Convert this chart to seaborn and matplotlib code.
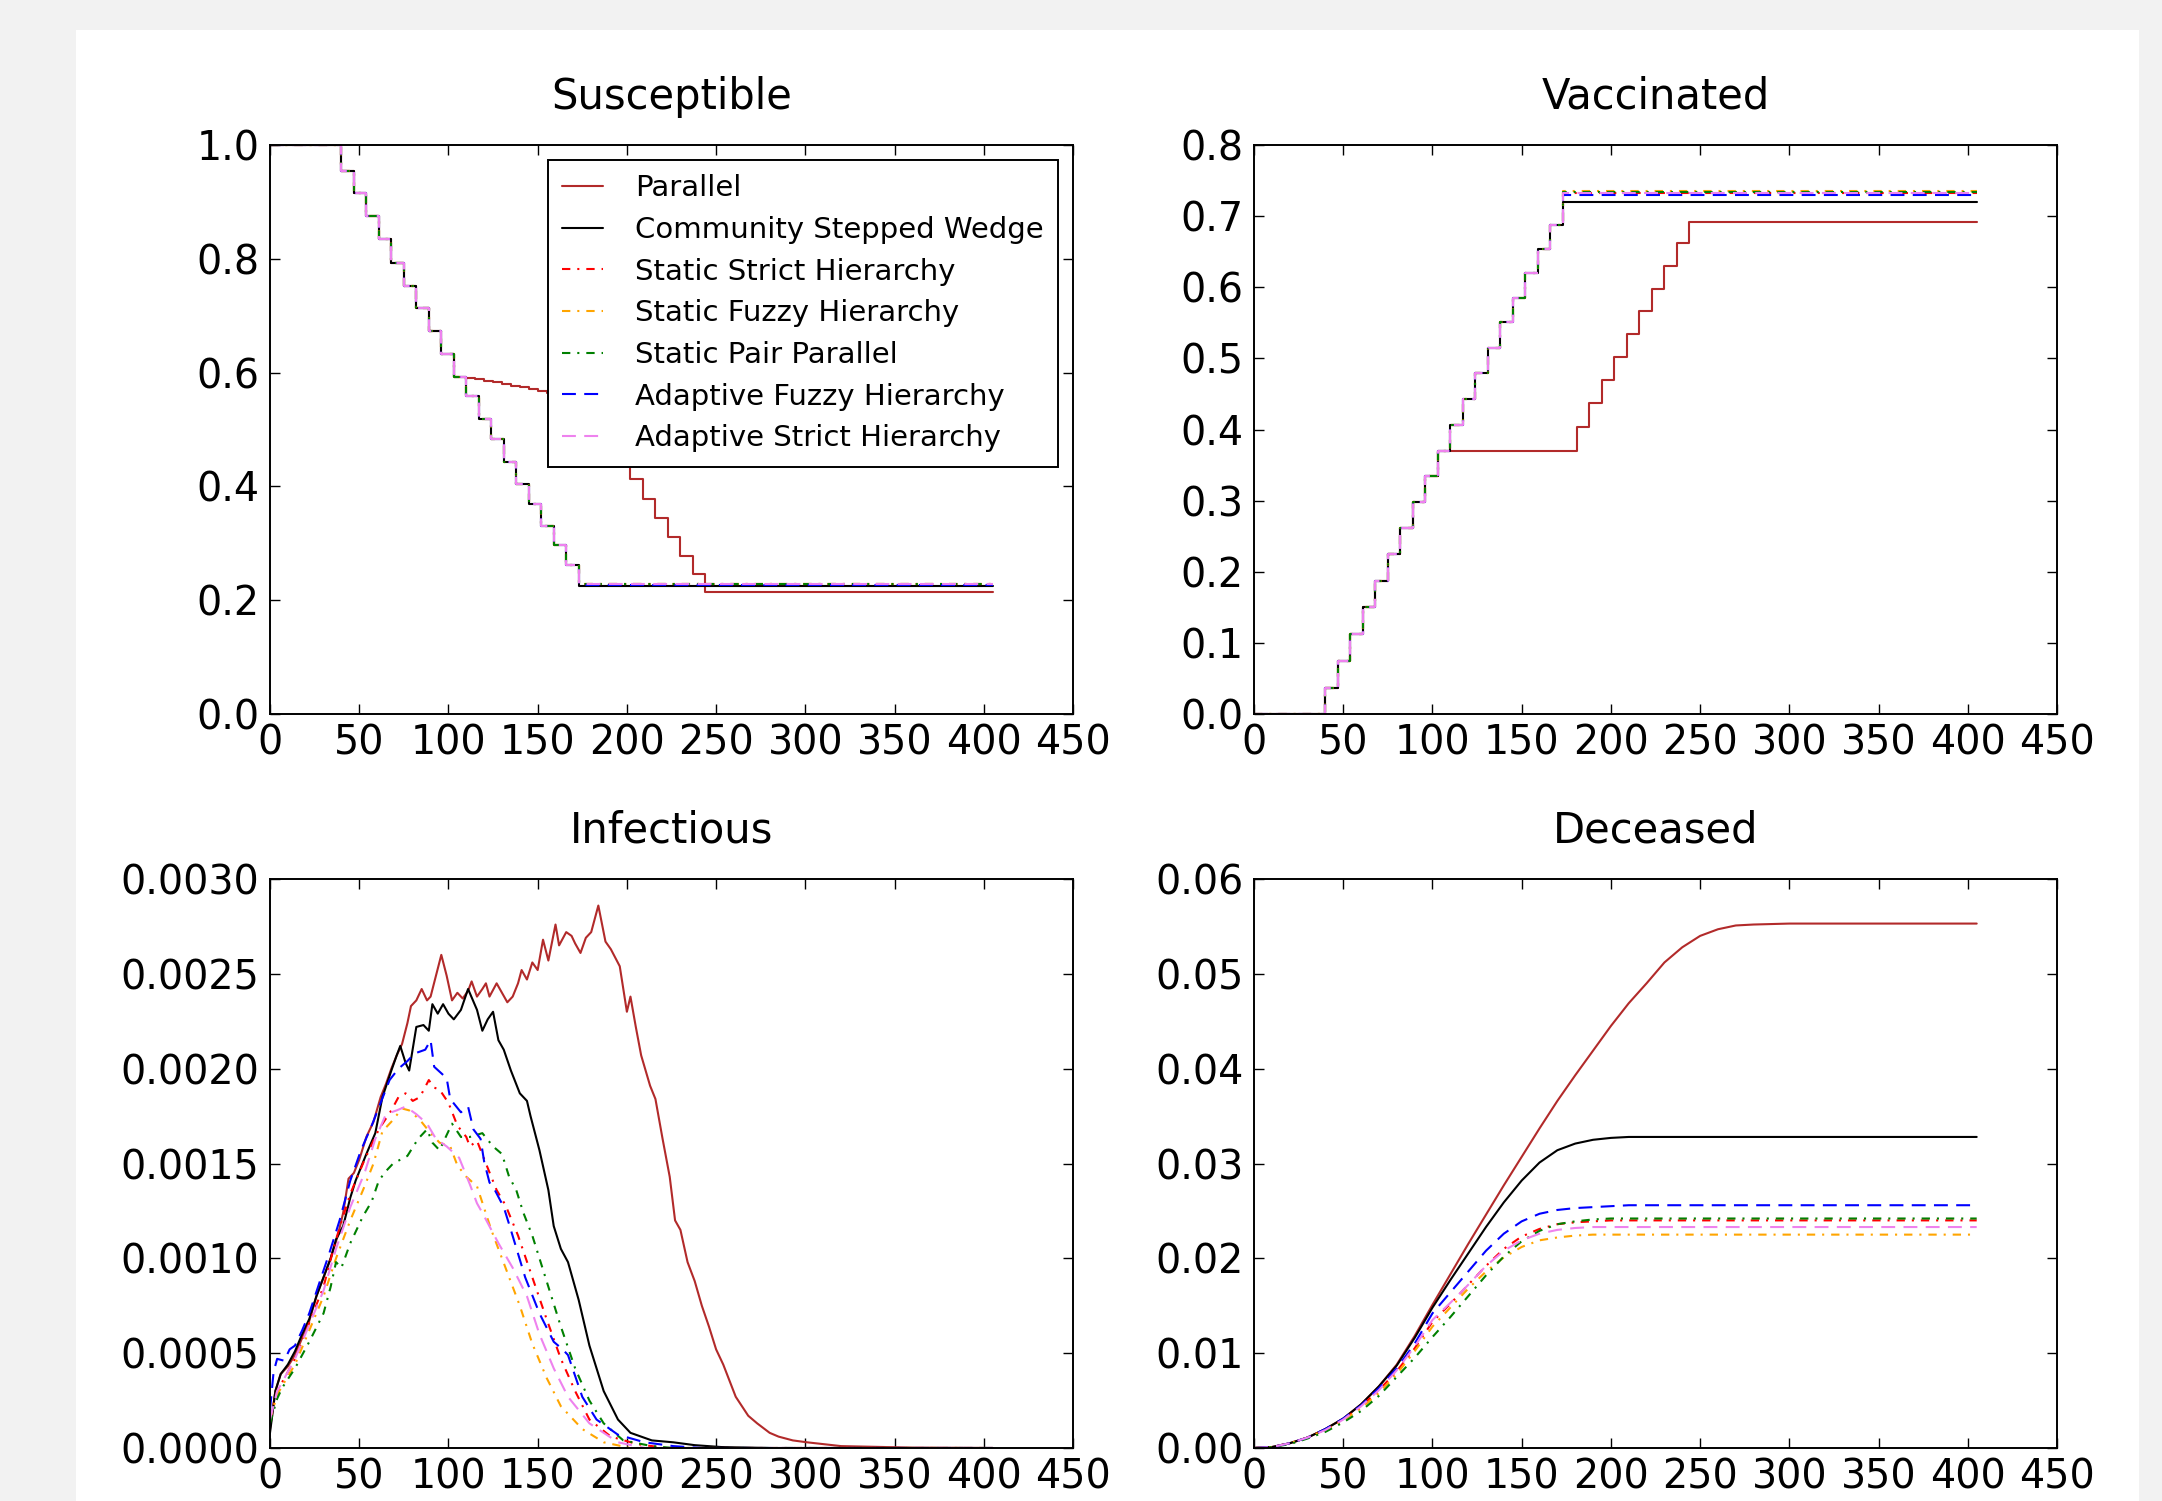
import matplotlib
matplotlib.use('Agg')
import matplotlib.pyplot as plt
from matplotlib.patches import Rectangle
from matplotlib.ticker import FormatStrFormatter
import pandas as pd
import seaborn as sns

# scenarios, in legend order
scenarios = ['Parallel', 'Community Stepped Wedge', 'Static Strict Hierarchy',
             'Static Fuzzy Hierarchy', 'Static Pair Parallel',
             'Adaptive Fuzzy Hierarchy', 'Adaptive Strict Hierarchy']

'''1. Susceptible / Vaccinated (step curves)'''
step_days = [0, 40, 47, 54, 61, 68, 75, 82, 89, 96, 103, 110, 117, 124, 131, 138, 145, 152, 159, 166, 173, 405]
sus_ramp = [1.0, 0.954, 0.916, 0.875, 0.834, 0.793, 0.752, 0.714, 0.673, 0.632, 0.593,
            0.559, 0.518, 0.483, 0.443, 0.404, 0.369, 0.331, 0.297, 0.262]
sus_plateau = [None, 0.225, 0.228, 0.229, 0.228, 0.227, 0.228]
vac_ramp = [0.0, 0.037, 0.075, 0.112, 0.150, 0.187, 0.225, 0.262, 0.298, 0.334, 0.370,
            0.406, 0.443, 0.479, 0.515, 0.551, 0.585, 0.620, 0.654, 0.688]
vac_plateau = [None, 0.720, 0.733, 0.735, 0.734, 0.730, 0.732]

# Parallel keeps going after the first 10 rounds with a pause
par_sus_late_days = [110, 115, 120, 125, 130, 135, 140, 145, 150, 155, 160, 165, 170, 175,
                     181, 188, 195, 202, 209, 216, 223, 230, 237, 244, 405]
par_sus_late = [0.590, 0.588, 0.585, 0.583, 0.580, 0.577, 0.574, 0.571, 0.568, 0.565, 0.562, 0.559, 0.556, 0.553,
                0.512, 0.477, 0.442, 0.413, 0.378, 0.344, 0.311, 0.278, 0.246, 0.214, 0.214]
par_vac_late_days = [181, 188, 195, 202, 209, 216, 223, 230, 237, 244, 405]
par_vac_late = [0.404, 0.437, 0.470, 0.502, 0.534, 0.566, 0.598, 0.630, 0.662, 0.692, 0.692]

'''2. Infectious'''
inf_parallel = [(0, 0.00010), (3, 0.00030), (6, 0.00039), (10, 0.00043), (14, 0.00049), (18, 0.00058),
                (22, 0.00067), (26, 0.00080), (30, 0.00090), (34, 0.00100), (38, 0.00112), (41, 0.00124),
                (44, 0.00142), (47, 0.00145), (50, 0.00152), (54, 0.00164), (58, 0.00172), (62, 0.00185),
                (65, 0.00192), (68, 0.00200), (71, 0.00207), (74, 0.00213), (77, 0.00224), (79, 0.00233),
                (82, 0.00236), (85, 0.00242), (88, 0.00236), (90, 0.00238), (93, 0.00249), (96, 0.00260),
                (99, 0.00249), (102, 0.00236), (105, 0.00240), (108, 0.00237), (111, 0.00241), (113, 0.00246),
                (116, 0.00238), (119, 0.00242), (121, 0.00245), (123, 0.00238), (127, 0.00245), (130, 0.00240),
                (133, 0.00235), (136, 0.00238), (139, 0.00245), (141, 0.00252), (144, 0.00247), (147, 0.00256),
                (150, 0.00252), (153, 0.00268), (156, 0.00257), (160, 0.00276), (162, 0.00265), (166, 0.00272),
                (169, 0.00270), (171, 0.00266), (174, 0.00261), (177, 0.00269), (180, 0.00272), (184, 0.00286),
                (188, 0.00267), (191, 0.00263), (196, 0.00254), (200, 0.00230), (202, 0.00238), (205, 0.00222),
                (208, 0.00207), (213, 0.00191), (216, 0.00184), (220, 0.00163), (224, 0.00143), (227, 0.00120),
                (230, 0.00115), (234, 0.00098), (238, 0.00088), (242, 0.00075), (246, 0.00064), (250, 0.00052),
                (254, 0.00044), (261, 0.00027), (268, 0.00017), (273, 0.00013), (280, 0.00008), (285, 0.00006),
                (293, 0.00004), (301, 0.00003), (320, 0.00001), (360, 0.000002), (405, 0.0)]
inf_community = [(0, 0.00008), (3, 0.00030), (6, 0.00039), (10, 0.00044), (14, 0.00051), (18, 0.00060),
                 (22, 0.00068), (26, 0.00080), (30, 0.00090), (34, 0.00100), (37, 0.00110), (41, 0.00117),
                 (45, 0.00132), (48, 0.00141), (54, 0.00155), (59, 0.00166), (63, 0.00185), (68, 0.00199),
                 (71, 0.00207), (73, 0.00212), (76, 0.00203), (78, 0.00199), (82, 0.00222), (86, 0.00223),
                 (89, 0.00220), (91, 0.00234), (94, 0.00229), (97, 0.00234), (100, 0.00229), (103, 0.00226),
                 (107, 0.00231), (111, 0.00242), (116, 0.00231), (119, 0.00220), (122, 0.00226), (125, 0.00230),
                 (128, 0.00215), (131, 0.00210), (135, 0.00199), (140, 0.00187), (144, 0.00183), (146, 0.00175),
                 (151, 0.00157), (156, 0.00136), (159, 0.00117), (163, 0.00105), (167, 0.00098), (173, 0.00078),
                 (179, 0.00054), (187, 0.00030), (195, 0.00015), (202, 0.00008), (214, 0.00004), (226, 0.00003),
                 (238, 0.000015), (253, 0.000005), (281, 0.0), (405, 0.0)]
inf_static_strict = [(0, 0.00015), (4, 0.00030), (7, 0.00035), (14, 0.00047), (22, 0.00066), (30, 0.00085),
                     (37, 0.00110), (45, 0.00134), (53, 0.00152), (61, 0.00168), (68, 0.00178), (72, 0.00185),
                     (76, 0.00187), (80, 0.00183), (84, 0.00185), (89, 0.00194), (92, 0.00190), (95, 0.00189),
                     (100, 0.00182), (105, 0.00170), (110, 0.00164), (112, 0.00159), (116, 0.00162), (121, 0.00150),
                     (127, 0.00136), (132, 0.00128), (139, 0.00112), (147, 0.00090), (155, 0.00068), (163, 0.00047),
                     (171, 0.00030), (179, 0.00015), (191, 0.00006), (206, 0.00002), (222, 0.0), (405, 0.0)]
inf_static_fuzzy = [(0, 0.00015), (4, 0.00028), (7, 0.00033), (14, 0.00044), (22, 0.00062), (30, 0.00080),
                    (37, 0.00100), (45, 0.00120), (53, 0.00138), (58, 0.00150), (63, 0.00167), (68, 0.00172),
                    (74, 0.00179), (78, 0.00178), (84, 0.00173), (90, 0.00166), (95, 0.00161), (101, 0.00159),
                    (105, 0.00149), (110, 0.00143), (116, 0.00138), (124, 0.00115), (132, 0.00095), (140, 0.00075),
                    (147, 0.00055), (155, 0.00037), (163, 0.00022), (175, 0.00010), (187, 0.00003), (202, 0.0),
                    (405, 0.0)]
inf_static_pair = [(0, 0.00013), (4, 0.00026), (7, 0.00032), (14, 0.00042), (22, 0.00056), (30, 0.00071),
                   (34, 0.00085), (37, 0.00098), (40, 0.00095), (45, 0.00108), (52, 0.00122), (57, 0.00130),
                   (61, 0.00141), (65, 0.00146), (69, 0.00150), (77, 0.00154), (83, 0.00163), (88, 0.00168),
                   (91, 0.00161), (95, 0.00157), (102, 0.00171), (107, 0.00164), (112, 0.00164), (119, 0.00166),
                   (125, 0.00159), (130, 0.00155), (134, 0.00143), (138, 0.00136), (142, 0.00124), (147, 0.00112),
                   (155, 0.00088), (163, 0.00064), (171, 0.00042), (179, 0.00025), (187, 0.00013), (198, 0.00004),
                   (214, 0.00001), (226, 0.0), (405, 0.0)]
inf_adaptive_fuzzy = [(0, 0.00020), (2, 0.00040), (4, 0.00047), (8, 0.00046), (11, 0.00052), (14, 0.00054),
                      (18, 0.00062), (22, 0.00071), (28, 0.00088), (33, 0.00102), (39, 0.00120), (45, 0.00141),
                      (51, 0.00157), (57, 0.00170), (62, 0.00182), (67, 0.00194), (72, 0.00200), (77, 0.00204),
                      (81, 0.00208), (87, 0.00210), (90, 0.00215), (92, 0.00201), (99, 0.00195), (101, 0.00184),
                      (107, 0.00177), (111, 0.00180), (114, 0.00168), (118, 0.00163), (120, 0.00151), (123, 0.00140),
                      (126, 0.00136), (131, 0.00127), (134, 0.00118), (143, 0.00090), (151, 0.00071), (159, 0.00056),
                      (164, 0.00052), (167, 0.00049), (175, 0.00027), (183, 0.00015), (195, 0.00007), (210, 0.00003),
                      (226, 0.00001), (242, 0.0), (405, 0.0)]
inf_adaptive_strict = [(0, 0.00015), (4, 0.00030), (7, 0.00035), (14, 0.00047), (22, 0.00065), (30, 0.00083),
                       (37, 0.00105), (45, 0.00127), (53, 0.00145), (59, 0.00163), (65, 0.00176), (71, 0.00178),
                       (76, 0.00180), (82, 0.00176), (88, 0.00171), (93, 0.00163), (99, 0.00159), (106, 0.00153),
                       (112, 0.00139), (116, 0.00129), (119, 0.00124), (128, 0.00108), (136, 0.00095), (144, 0.00080),
                       (151, 0.00060), (159, 0.00042), (167, 0.00027), (179, 0.00013), (195, 0.00003), (210, 0.0),
                       (405, 0.0)]

'''3. Deceased (cumulative)'''
dec_days = [0, 10, 20, 30, 40, 50, 60, 70, 80, 90, 100, 110, 120, 130, 140, 150,
            160, 170, 180, 190, 200, 210, 220, 230, 240, 250, 260, 270, 280, 300, 350, 405]
dec_parallel = [0.0, 0.0001, 0.0005, 0.0011, 0.0020, 0.0031, 0.0046, 0.0065, 0.0088, 0.0118, 0.0151, 0.0183,
                0.0215, 0.0246, 0.0277, 0.0307, 0.0337, 0.0366, 0.0393, 0.0419, 0.0445, 0.0469, 0.0490, 0.0512,
                0.0528, 0.0540, 0.0547, 0.0551, 0.0552, 0.0553, 0.0553, 0.0553]
dec_community = [0.0, 0.0001, 0.0005, 0.0011, 0.0020, 0.0031, 0.0046, 0.0065, 0.0087, 0.0116, 0.0148, 0.0177,
                 0.0205, 0.0233, 0.0259, 0.0282, 0.0301, 0.0314, 0.0321, 0.0325, 0.0327, 0.0328, 0.0328, 0.0328,
                 0.0328, 0.0328, 0.0328, 0.0328, 0.0328, 0.0328, 0.0328, 0.0328]
dec_static_strict = [0.0, 0.0001, 0.0005, 0.0011, 0.0019, 0.0030, 0.0044, 0.0061, 0.0081, 0.0105, 0.0133, 0.0152,
                     0.0172, 0.0192, 0.0210, 0.0223, 0.0231, 0.0236, 0.0238, 0.0239, 0.0240, 0.0240, 0.0240, 0.0240,
                     0.0240, 0.0240, 0.0240, 0.0240, 0.0240, 0.0240, 0.0240, 0.0240]
dec_static_fuzzy = [0.0, 0.0001, 0.0005, 0.0011, 0.0019, 0.0029, 0.0042, 0.0058, 0.0078, 0.0102, 0.0128, 0.0148,
                    0.0168, 0.0186, 0.0201, 0.0212, 0.0219, 0.0222, 0.0224, 0.0225, 0.0225, 0.0225, 0.0225, 0.0225,
                    0.0225, 0.0225, 0.0225, 0.0225, 0.0225, 0.0225, 0.0225, 0.0225]
dec_static_pair = [0.0, 0.0001, 0.0004, 0.0010, 0.0017, 0.0027, 0.0039, 0.0055, 0.0075, 0.0095, 0.0117, 0.0138,
                   0.0160, 0.0182, 0.0202, 0.0218, 0.0229, 0.0236, 0.0239, 0.0241, 0.0242, 0.0242, 0.0242, 0.0242,
                   0.0242, 0.0242, 0.0242, 0.0242, 0.0242, 0.0242, 0.0242, 0.0242]
dec_adaptive_fuzzy = [0.0, 0.0001, 0.0005, 0.0011, 0.0020, 0.0031, 0.0045, 0.0063, 0.0084, 0.0110, 0.0142, 0.0164,
                      0.0186, 0.0208, 0.0226, 0.0239, 0.0247, 0.0251, 0.0253, 0.0254, 0.0255, 0.0256, 0.0256, 0.0256,
                      0.0256, 0.0256, 0.0256, 0.0256, 0.0256, 0.0256, 0.0256, 0.0256]
dec_adaptive_strict = [0.0, 0.0001, 0.0005, 0.0011, 0.0019, 0.0030, 0.0044, 0.0061, 0.0082, 0.0107, 0.0135, 0.0153,
                       0.0172, 0.0192, 0.0208, 0.0219, 0.0226, 0.0230, 0.0232, 0.0233, 0.0233, 0.0233, 0.0233, 0.0233,
                       0.0233, 0.0233, 0.0233, 0.0233, 0.0233, 0.0233, 0.0233, 0.0233]

# tick labels
x_ticks = [0, 50, 100, 150, 200, 250, 300, 350, 400, 450]
sus_ticks = [0.0, 0.2, 0.4, 0.6, 0.8, 1.0]
vac_ticks = [0.0, 0.1, 0.2, 0.3, 0.4, 0.5, 0.6, 0.7, 0.8]
inf_ticks = [0.0, 0.0005, 0.0010, 0.0015, 0.0020, 0.0025, 0.0030]
dec_ticks = [0.0, 0.01, 0.02, 0.03, 0.04, 0.05, 0.06]

# styles
palette = dict(zip(scenarios, ['#b22a2a', 'black', 'red', 'orange', 'green', 'blue', 'violet']))
dashes = dict(zip(scenarios, ['', '', (6, 5, 1.5, 5), (6, 5, 1.5, 5), (6, 5, 1.5, 5), (10, 6), (10, 6)]))


def long_df(series):
    rows = []
    for name, (days, vals) in zip(scenarios, series):
        rows.append(pd.DataFrame({'day': days, 'value': vals, 'scenario': name}))
    return pd.concat(rows, ignore_index=True)


sus_series = [(step_days[:11] + par_sus_late_days, sus_ramp[:11] + par_sus_late)]
vac_series = [(step_days[:11] + par_vac_late_days, vac_ramp[:11] + par_vac_late)]
for i in range(1, len(scenarios)):
    sus_series.append((step_days, sus_ramp + [sus_plateau[i], sus_plateau[i]]))
    vac_series.append((step_days, vac_ramp + [vac_plateau[i], vac_plateau[i]]))

inf_series = [list(zip(*s)) for s in [inf_parallel, inf_community, inf_static_strict, inf_static_fuzzy,
                                      inf_static_pair, inf_adaptive_fuzzy, inf_adaptive_strict]]
dec_series = [(dec_days, d) for d in [dec_parallel, dec_community, dec_static_strict, dec_static_fuzzy,
                                      dec_static_pair, dec_adaptive_fuzzy, dec_adaptive_strict]]

sns.set_theme(style='ticks')
plt.rcParams['font.family'] = ['DejaVu Sans']
plt.rcParams['lines.scale_dashes'] = False
plt.rcParams['axes.edgecolor'] = 'black'
plt.rcParams['text.color'] = 'black'
plt.rcParams['xtick.color'] = 'black'
plt.rcParams['ytick.color'] = 'black'

W, H = 2162, 1501
fig = plt.figure(figsize=(W / 100, H / 100), dpi=100, facecolor='#f2f2f2')
# white page on the grey surround, kept behind the axes
fig.patches.append(Rectangle((76 / W, 0), (2139 - 76) / W, 1 - 30 / H, transform=fig.transFigure,
                             facecolor='white', edgecolor='none', zorder=-10))

panels = [
    ('Susceptible', sus_series, sus_ticks, '%.1f', 'steps-post', (270, 145)),
    ('Vaccinated', vac_series, vac_ticks, '%.1f', 'steps-post', (1254, 145)),
    ('Infectious', inf_series, inf_ticks, '%.4f', 'default', (270, 879)),
    ('Deceased', dec_series, dec_ticks, '%.2f', 'default', (1254, 879)),
]

for title, series, yt, fmt, ds, (left, top) in panels:
    ax = fig.add_axes([left / W, 1 - (top + 569) / H, 803 / W, 569 / H])
    df = long_df(series)
    sns.lineplot(data=df, x='day', y='value', hue='scenario', style='scenario',
                 hue_order=scenarios, style_order=scenarios, palette=palette, dashes=dashes,
                 estimator=None, errorbar=None, sort=False, legend=False, lw=1.5,
                 drawstyle=ds, ax=ax)
    ax.set_xlim(0, 450)
    ax.set_ylim(yt[0], yt[-1])
    ax.set_xticks(x_ticks)
    ax.set_yticks(yt)
    ax.yaxis.set_major_formatter(FormatStrFormatter(fmt))
    ax.set_xlabel('')
    ax.set_ylabel('')
    ax.set_title(title, fontsize=30, pad=26)
    ax.tick_params(direction='in', top=True, right=True, length=7, width=1, labelsize=28.5)
    ax.tick_params(axis='x', pad=7)
    ax.tick_params(axis='y', pad=7.5)
    for s in ax.spines.values():
        s.set_linewidth(1.4)
        s.set_color('black')
    if title == 'Susceptible':
        leg = ax.legend(ax.get_lines()[:len(scenarios)], scenarios, loc='upper right', fontsize=21,
                        fancybox=False, framealpha=1, edgecolor='black', handlelength=1.4,
                        handletextpad=1.1, borderpad=0.5, labelspacing=0.47, borderaxespad=0.5)
        leg.get_frame().set_linewidth(1.4)

fig.savefig('out.png', dpi=100, facecolor=fig.get_facecolor())
